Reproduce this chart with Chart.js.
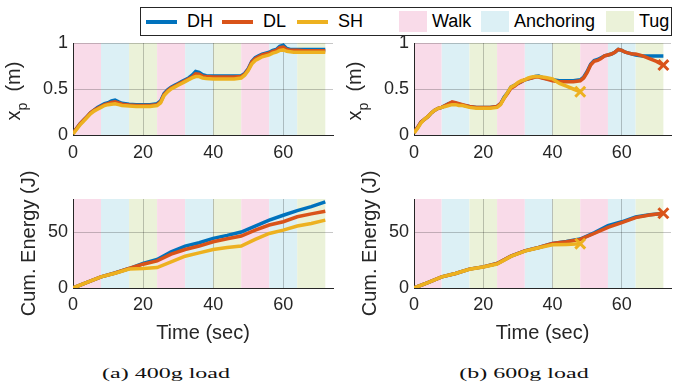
<!DOCTYPE html>
<html>
<head>
<meta charset="utf-8">
<script src="https://cdn.jsdelivr.net/npm/chart.js"></script>
<style>
  html, body { margin: 0; padding: 0; background: #fff; }
  body { width: 673px; height: 383px; position: relative; overflow: hidden; font-family: "Liberation Sans", Arial, sans-serif; }
  canvas { position: absolute; }
  #legend { position: absolute; left: 140px; top: 7px; width: 530px; height: 27px; border: 1px solid #262626; background: #fff; z-index: 5; }
  .ln { position: absolute; top: 12px; height: 4px; width: 31px; }
  .patch { position: absolute; top: 3px; height: 21px; width: 28px; }
  .lt { position: absolute; top: 3px; font-size: 18px; line-height: 21px; color: #000; white-space: nowrap; }
  .cap { position: absolute; font-family: "Liberation Serif", "Times New Roman", serif; font-size: 15px; white-space: nowrap; color: #111;
         transform: translate(-50%, -50%) scaleX(1.6); }
</style>
</head>
<body>
<canvas id="xp400" width="340" height="175" style="left:0;top:0"></canvas>
<canvas id="xp600" width="340" height="175" style="left:341px;top:0"></canvas>
<canvas id="en400" width="340" height="192" style="left:0;top:158px"></canvas>
<canvas id="en600" width="340" height="192" style="left:341px;top:158px"></canvas>

<div id="legend"></div>
<div class="cap" style="left:166px;top:373px">(a) 400g load</div>
<div class="cap" style="left:524px;top:373px">(b) 600g load</div>

<script>
// ---- data ----
const seriesNames = ['DH', 'DL', 'SH'];
const seriesColors = ['#0072BD', '#D95319', '#EDB120'];

const phaseEdges = [0, 8, 16, 24, 32, 40, 48, 56, 64, 72];
const phaseKinds = ['Walk', 'Anchoring', 'Tug', 'Walk', 'Anchoring', 'Tug', 'Walk', 'Anchoring', 'Tug'];
const phaseNames = ['Walk', 'Anchoring', 'Tug'];
const phaseColors = { Walk: '#f9dbe9', Anchoring: '#dcf0f5', Tug: '#ebf2d9' };

const xTicks = [0, 20, 40, 60];
const xpTicks = [0, 0.5, 1];
const energyTicks = [0, 50];

// time (sec) for the x_p traces
const timeXp = [0, 1, 2, 3, 4, 5, 6, 7, 8, 9, 10, 11, 12, 13, 14,
  16, 18, 20, 22, 24,
  25, 26, 27, 28, 29, 30, 31, 32, 33, 34, 35, 36, 37, 38,
  40, 42, 44, 46, 48,
  49, 50, 51, 52, 53, 54, 55, 56, 57, 58, 59, 60, 61, 62, 63, 64,
  66, 68, 70, 72];

// 400g load, x_p (m)
const xp400DH = [0.02, 0.07, 0.12, 0.16, 0.20, 0.24, 0.27, 0.30, 0.32, 0.34, 0.35, 0.37, 0.38, 0.36, 0.345,
  0.335, 0.33, 0.33, 0.33, 0.34,
  0.37, 0.45, 0.49, 0.52, 0.54, 0.56, 0.58, 0.60, 0.62, 0.65, 0.69, 0.68, 0.655, 0.645,
  0.64, 0.64, 0.64, 0.64, 0.645,
  0.67, 0.72, 0.80, 0.84, 0.86, 0.88, 0.89, 0.90, 0.92, 0.93, 0.965, 0.975, 0.94, 0.93, 0.93, 0.93,
  0.93, 0.93, 0.93, 0.93];
const xp400DL = [0.02, 0.07, 0.12, 0.16, 0.20, 0.24, 0.27, 0.29, 0.31, 0.33, 0.34, 0.355, 0.36, 0.35, 0.335,
  0.325, 0.32, 0.32, 0.32, 0.33,
  0.36, 0.44, 0.48, 0.51, 0.53, 0.55, 0.57, 0.59, 0.61, 0.63, 0.665, 0.66, 0.64, 0.635,
  0.63, 0.63, 0.63, 0.63, 0.635,
  0.66, 0.71, 0.79, 0.83, 0.85, 0.87, 0.88, 0.89, 0.91, 0.92, 0.95, 0.955, 0.93, 0.92, 0.92, 0.92,
  0.915, 0.915, 0.915, 0.915];
const xp400SH = [0.01, 0.06, 0.11, 0.15, 0.19, 0.23, 0.26, 0.28, 0.30, 0.32, 0.33, 0.335, 0.34, 0.33, 0.32,
  0.315, 0.31, 0.31, 0.31, 0.32,
  0.35, 0.43, 0.47, 0.50, 0.52, 0.54, 0.56, 0.58, 0.60, 0.62, 0.635, 0.635, 0.62, 0.615,
  0.61, 0.61, 0.61, 0.61, 0.62,
  0.65, 0.70, 0.77, 0.81, 0.83, 0.85, 0.86, 0.87, 0.89, 0.90, 0.92, 0.925, 0.91, 0.905, 0.90, 0.90,
  0.90, 0.90, 0.90, 0.90];

// 600g load, x_p (m)  (SH stops at 48 s, DL fails at 72 s)
const xp600DH = [0.03, 0.08, 0.14, 0.17, 0.20, 0.24, 0.27, 0.29, 0.30, 0.32, 0.34, 0.35, 0.345, 0.335, 0.325,
  0.31, 0.30, 0.30, 0.30, 0.31,
  0.34, 0.41, 0.46, 0.52, 0.54, 0.56, 0.58, 0.60, 0.61, 0.62, 0.635, 0.64, 0.625, 0.615,
  0.60, 0.59, 0.59, 0.59, 0.60,
  0.63, 0.69, 0.77, 0.81, 0.82, 0.84, 0.86, 0.87, 0.88, 0.90, 0.93, 0.92, 0.90, 0.89, 0.88, 0.87,
  0.86, 0.86, 0.86, 0.86];
const xp600DL = [0.03, 0.08, 0.14, 0.17, 0.20, 0.24, 0.27, 0.29, 0.30, 0.32, 0.34, 0.36, 0.35, 0.34, 0.33,
  0.31, 0.30, 0.30, 0.30, 0.31,
  0.34, 0.40, 0.45, 0.51, 0.53, 0.56, 0.58, 0.60, 0.61, 0.62, 0.63, 0.63, 0.62, 0.61,
  0.59, 0.58, 0.58, 0.58, 0.59,
  0.62, 0.68, 0.76, 0.80, 0.81, 0.83, 0.86, 0.87, 0.88, 0.90, 0.93, 0.92, 0.90, 0.89, 0.88, 0.88,
  0.86, 0.83, 0.80, 0.76];
const xp600SH = [0.02, 0.07, 0.13, 0.17, 0.20, 0.24, 0.27, 0.29, 0.30, 0.31, 0.32, 0.33, 0.33, 0.32, 0.32,
  0.30, 0.29, 0.29, 0.29, 0.30,
  0.33, 0.40, 0.46, 0.52, 0.54, 0.57, 0.59, 0.60, 0.62, 0.63, 0.635, 0.635, 0.63, 0.625,
  0.61, 0.56, 0.53, 0.50, 0.47,
  null, null, null, null, null, null, null, null, null, null, null, null, null, null, null, null,
  null, null, null, null];

// time (sec) for the cumulative energy traces
const timeEnergy = [0, 4, 8, 12, 16, 20, 24, 28, 32, 36, 40, 44, 48, 52, 56, 60, 64, 68, 72];

// 400g load, cumulative energy (J)
const en400DH = [0, 5, 10, 13.5, 17.5, 22, 25.6, 32.5, 37.7, 40.7, 44.6, 47.3, 50.3, 55.7, 61, 65.4, 69.6, 73.2, 77.4];
const en400DL = [0, 5, 10, 13.5, 17.5, 21.4, 24.4, 30.4, 34.6, 37.7, 41.6, 44.3, 46.7, 52, 56.6, 59.6, 64, 66.6, 69];
const en400SH = [0, 5, 10, 13.3, 17, 17.5, 18.4, 23.5, 28.6, 31.6, 34.6, 36.4, 37.7, 43.7, 49, 52, 55.7, 58, 61];

// 600g load, cumulative energy (J)
const en600DH = [0, 4.8, 10, 13, 17, 19, 22, 28.6, 33.4, 36.4, 40, 41.8, 44, 49.6, 56, 59.5, 63.8, 65.8, 67];
const en600DL = [0, 4.8, 10, 13, 17, 19, 22, 28.6, 33.4, 36.4, 40, 41.6, 43.7, 49, 54.5, 58.7, 63.3, 65.7, 67.2];
const en600SH = [0, 4.8, 10, 13, 16.8, 18.8, 21.5, 28.4, 33.2, 36.2, 38.8, 39.2, 39.8,
  null, null, null, null, null, null];

// runs that ended in a failure (marked with an x at their last sample)
const failed400 = [];
const failed600 = ['DL', 'SH'];

// ---- drawing ----
const FONT = 'Liberation Sans';
const INK = '#262626';
Chart.defaults.font.family = FONT;
Chart.defaults.color = INK;

const phaseBands = {
  id: 'phaseBands',
  beforeDraw(chart) {
    const { ctx, chartArea: a, scales: { x } } = chart;
    ctx.save();
    for (let i = 0; i < phaseKinds.length; i++) {
      const x0 = x.getPixelForValue(phaseEdges[i]);
      const x1 = x.getPixelForValue(phaseEdges[i + 1]);
      ctx.fillStyle = phaseColors[phaseKinds[i]];
      ctx.fillRect(x0, a.top, x1 - x0, a.bottom - a.top);
    }
    ctx.restore();
  }
};

// rotated axis title drawn by hand, so x_p can get a real subscript
const yTitle = {
  id: 'yTitle',
  afterDraw(chart, args, opts) {
    const { ctx, chartArea: a } = chart;
    ctx.save();
    ctx.translate(opts.x, (a.top + a.bottom) / 2 + opts.dy);
    ctx.rotate(-Math.PI / 2);
    ctx.fillStyle = INK;
    ctx.textBaseline = 'alphabetic';
    const big = '20px "' + FONT + '"', small = '14px "' + FONT + '"';
    if (opts.sub) {
      ctx.font = big;
      const wx = ctx.measureText(opts.text).width, wm = ctx.measureText(opts.after).width;
      ctx.font = small;
      const wp = ctx.measureText(opts.sub).width;
      const x0 = -(wx + wp + wm) / 2;
      ctx.font = big;
      ctx.fillText(opts.text, x0, 0);
      ctx.font = small;
      ctx.fillText(opts.sub, x0 + wx, 7);
      ctx.font = big;
      ctx.fillText(opts.after, x0 + wx + wp, 0);
    } else {
      ctx.font = big;
      ctx.textAlign = 'center';
      ctx.fillText(opts.text, 0, 0);
    }
    ctx.restore();
  }
};

function makeDatasets(time, values, failed) {
  return values.map((vals, i) => {
    const pts = [];
    vals.forEach((v, k) => { if (v !== null) pts.push({ x: time[k], y: v }); });
    const last = pts.length - 1;
    const isFailed = failed.includes(seriesNames[i]);
    return {
      label: seriesNames[i],
      data: pts,
      borderColor: seriesColors[i],
      backgroundColor: seriesColors[i],
      borderWidth: 3.5,
      tension: 0,
      order: 3 - i,
      pointStyle: 'crossRot',
      pointBorderWidth: 3,
      pointRadius: ctx => (isFailed && ctx.dataIndex === last) ? 7 : 0,
      pointHoverRadius: 0
    };
  });
}

function makeChart(id, time, values, failed, opt) {
  const ctx = document.getElementById(id).getContext('2d');
  return new Chart(ctx, {
    type: 'line',
    data: { datasets: makeDatasets(time, values, failed) },
    options: {
      responsive: false,
      animation: false,
      devicePixelRatio: 1,
      layout: { padding: { top: opt.top, right: 7, left: 0, bottom: 0 } },
      plugins: {
        legend: { display: false },
        tooltip: { enabled: false },
        yTitle: opt.yTitle
      },
      scales: {
        x: {
          type: 'linear',
          min: 0,
          max: 74.2,
          afterBuildTicks: s => { s.ticks = xTicks.map(v => ({ value: v })); },
          afterFit: s => { s.height = opt.xHeight; },
          ticks: { font: { size: 18 }, padding: opt.xPad, color: INK, callback: v => String(v), maxRotation: 0 },
          grid: { color: 'rgba(0,0,0,0.22)', drawTicks: false },
          border: { color: INK, width: 1 },
          title: opt.xTitle ? { display: true, text: 'Time (sec)', font: { size: 20 }, color: INK, padding: { top: 0, bottom: 5 } } : { display: false }
        },
        y: {
          min: 0,
          max: opt.yMax,
          afterBuildTicks: s => { s.ticks = opt.yTicks.map(v => ({ value: v })); },
          afterFit: s => { s.width = 73; },
          ticks: { font: { size: 18 }, padding: 5, color: INK, callback: v => String(v) },
          grid: { color: 'rgba(0,0,0,0.22)', drawTicks: false },
          border: { color: INK, width: 1 }
        }
      }
    },
    plugins: [phaseBands, yTitle]
  });
}

const topOpt = { top: 43, xHeight: 40, xPad: 7, yMax: 1, yTicks: xpTicks, xTitle: false,
  yTitle: { x: 19.5, dy: 2, text: 'x', sub: 'p', after: '  (m)' } };
const botOpt = { top: 41, xHeight: 62, xPad: 6, yMax: 80, yTicks: energyTicks, xTitle: true,
  yTitle: { x: 35, dy: 0, text: 'Cum. Energy (J)' } };

makeChart('xp400', timeXp, [xp400DH, xp400DL, xp400SH], failed400, topOpt);
makeChart('xp600', timeXp, [xp600DH, xp600DL, xp600SH], failed600, topOpt);
makeChart('en400', timeEnergy, [en400DH, en400DL, en400SH], failed400, botOpt);
makeChart('en600', timeEnergy, [en600DH, en600DL, en600SH], failed600, botOpt);

// shared legend across the top
(function buildLegend() {
  const box = document.getElementById('legend');
  const lineLeft = [5, 81, 156];
  const patchLeft = [258, 340, 465];
  let html = '';
  seriesNames.forEach((n, i) => {
    html += '<div class="ln" style="left:' + lineLeft[i] + 'px;background:' + seriesColors[i] + '"></div>';
    html += '<div class="lt" style="left:' + (lineLeft[i] + 41) + 'px">' + n + '</div>';
  });
  phaseNames.forEach((n, i) => {
    html += '<div class="patch" style="left:' + patchLeft[i] + 'px;background:' + phaseColors[n] + '"></div>';
    html += '<div class="lt" style="left:' + (patchLeft[i] + 33) + 'px">' + n + '</div>';
  });
  box.innerHTML = html;
})();
</script>
</body>
</html>
